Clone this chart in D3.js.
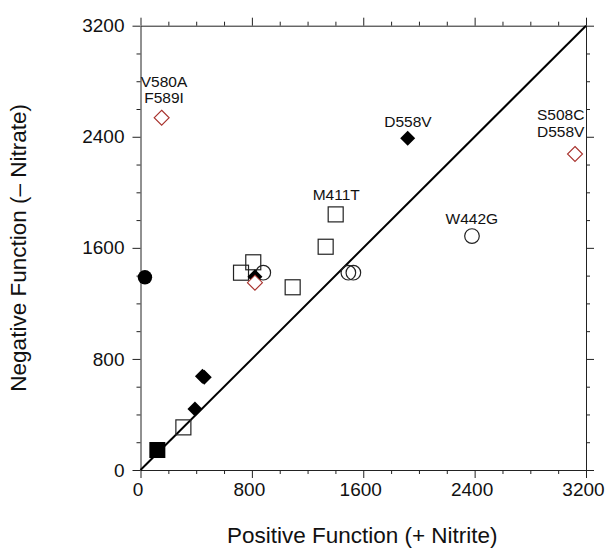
<!DOCTYPE html>
<html>
<head>
<meta charset="utf-8">
<script src="https://cdn.jsdelivr.net/npm/d3@7"></script>
<style>
  html, body { margin: 0; padding: 0; background: #fff; }
  svg { display: block; }
  text { font-family: "Liberation Sans", Arial, Helvetica, sans-serif; fill: #111; }
</style>
</head>
<body>
<svg id="chart" width="608" height="549"></svg>
<script>
// ---- Data (Positive function (+ Nitrite), Negative function (– Nitrate)) ----
const majorTicks = [0, 800, 1600, 2400, 3200];
const minorTicks = [200, 400, 600, 1000, 1200, 1400, 1800, 2000, 2200, 2600, 2800, 3000];
const openSquares = [[722, 1421], [810, 1496], [1093, 1316], [1330, 1608], [1402, 1841], [308, 307]];
const filledSquares = [[121, 144]];
const openCircles = [[882, 1421], [1493, 1421], [1529, 1421], [2381, 1685]];
const filledCircles = [[32, 1388]];
const filledDiamonds = [[822, 1392], [1919, 2389], [391, 439], [445, 676], [458, 668]];
const openRedDiamonds = [[152, 2537], [822, 1349], [3121, 2276]];
const identityLine = [[0, 0], [3200, 3200]];
const annotations = [
  { lines: ["V580A", "F589I"], x: 169, y: 2755 },
  { lines: ["D558V"], x: 1921, y: 2473 },
  { lines: ["S508C", "D558V"], x: 3018, y: 2521 },
  { lines: ["M411T"], x: 1406, y: 1945 },
  { lines: ["W442G"], x: 2380, y: 1774 }
];
const xTitle = "Positive Function (+ Nitrite)";
const yTitle = "Negative Function (\u2013 Nitrate)";

// ---- Layout ----
const svg = d3.select("#chart");
const pL = 140.5, pR = 586, pT = 25.7, pB = 470;
const x = d3.scaleLinear().domain([0, 3200]).range([pL, pR]);
const y = d3.scaleLinear().domain([0, 3200]).range([pB, pT]);
const axisColor = "#222";
const fmt = d3.format("d");

function styleAxis(g) {
  g.selectAll("path.domain").attr("stroke", axisColor).attr("stroke-width", 1);
  g.selectAll(".tick line").attr("stroke", axisColor).attr("stroke-width", 1);
  g.selectAll(".tick text").style("font-size", "19px").attr("fill", "#111")
    .style("font-family", "'Liberation Sans', Arial, sans-serif");
}

// Bottom
const gb = svg.append("g").attr("transform", `translate(0,${pB})`)
  .call(d3.axisBottom(x).tickValues(majorTicks).tickFormat(fmt).tickSize(8).tickSizeOuter(0).tickPadding(5));
styleAxis(gb);
gb.selectAll(".tick text").attr("dx", -3);
svg.append("g").attr("transform", `translate(0,${pB})`)
  .call(d3.axisBottom(x).tickValues(minorTicks).tickSize(4).tickFormat(""))
  .call(g => { g.select(".domain").remove(); styleAxis(g); });

// Top
const gt = svg.append("g").attr("transform", `translate(0,${pT})`)
  .call(d3.axisTop(x).tickValues(majorTicks).tickSize(8).tickSizeOuter(0).tickFormat(""));
styleAxis(gt);
svg.append("g").attr("transform", `translate(0,${pT})`)
  .call(d3.axisTop(x).tickValues(minorTicks).tickSize(4).tickFormat(""))
  .call(g => { g.select(".domain").remove(); styleAxis(g); });

// Left
const gl = svg.append("g").attr("transform", `translate(${pL},0)`)
  .call(d3.axisLeft(y).tickValues(majorTicks).tickFormat(fmt).tickSize(8).tickSizeOuter(0).tickPadding(8));
styleAxis(gl);
svg.append("g").attr("transform", `translate(${pL},0)`)
  .call(d3.axisLeft(y).tickValues(minorTicks).tickSize(4).tickFormat(""))
  .call(g => { g.select(".domain").remove(); styleAxis(g); });

// Right
const gr = svg.append("g").attr("transform", `translate(${pR},0)`)
  .call(d3.axisRight(y).tickValues(majorTicks).tickSize(8).tickSizeOuter(0).tickFormat(""));
styleAxis(gr);
svg.append("g").attr("transform", `translate(${pR},0)`)
  .call(d3.axisRight(y).tickValues(minorTicks).tickSize(4).tickFormat(""))
  .call(g => { g.select(".domain").remove(); styleAxis(g); });

// Identity line
svg.append("path")
  .datum(identityLine)
  .attr("d", d3.line().x(d => x(d[0])).y(d => y(d[1])))
  .attr("stroke", "#000").attr("stroke-width", 2).attr("fill", "none");

// Markers
const diamond = r => `M0,${-r}L${r},0L0,${r}L${-r},0Z`;
const sq = 15;

svg.append("g").selectAll("rect").data(openSquares).join("rect")
  .attr("x", d => x(d[0]) - sq / 2).attr("y", d => y(d[1]) - sq / 2)
  .attr("width", sq).attr("height", sq)
  .attr("fill", "none").attr("stroke", "#222").attr("stroke-width", 1.2);

svg.append("g").selectAll("rect").data(filledSquares).join("rect")
  .attr("x", d => x(d[0]) - 8).attr("y", d => y(d[1]) - 8)
  .attr("width", 16).attr("height", 16)
  .attr("fill", "#000");

svg.append("g").selectAll("circle").data(openCircles).join("circle")
  .attr("cx", d => x(d[0])).attr("cy", d => y(d[1])).attr("r", 7.3)
  .attr("fill", "none").attr("stroke", "#222").attr("stroke-width", 1.2);

svg.append("g").selectAll("circle").data(filledCircles).join("circle")
  .attr("cx", d => x(d[0])).attr("cy", d => y(d[1])).attr("r", 7.2)
  .attr("fill", "#000");

svg.append("g").selectAll("path").data(filledDiamonds).join("path")
  .attr("transform", d => `translate(${x(d[0])},${y(d[1])})`)
  .attr("d", diamond(7.5))
  .attr("fill", "#000");

svg.append("g").selectAll("path").data(openRedDiamonds).join("path")
  .attr("transform", d => `translate(${x(d[0])},${y(d[1])})`)
  .attr("d", diamond(7.5))
  .attr("fill", "#fff").attr("stroke", "#a8322d").attr("stroke-width", 1.1);

// Annotations
annotations.forEach(a => {
  const t = svg.append("text")
    .attr("text-anchor", "middle")
    .style("font-size", "15.5px");
  a.lines.forEach((ln, i) => {
    t.append("tspan")
      .attr("x", x(a.x))
      .attr("y", y(a.y) + (i === 0 ? 0 : (a.lines[0] === "S508C" ? 17 : 16)))
      .text(ln);
  });
});

// Titles
svg.append("text")
  .attr("x", (pL + pR) / 2 - 1).attr("y", 543)
  .attr("text-anchor", "middle")
  .style("font-size", "22.5px")
  .text(xTitle);

svg.append("text")
  .attr("transform", `translate(26,${(pT + pB) / 2}) rotate(-90)`)
  .attr("text-anchor", "middle")
  .style("font-size", "22.5px")
  .text(yTitle);
</script>
</body>
</html>
